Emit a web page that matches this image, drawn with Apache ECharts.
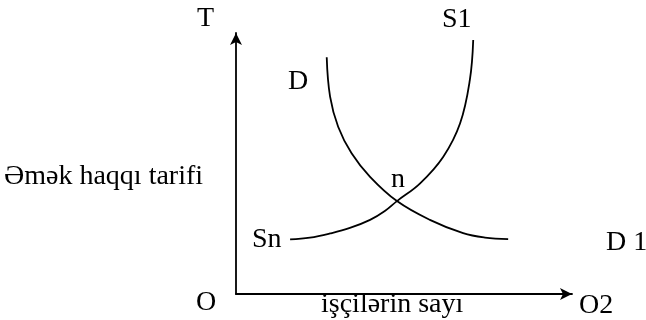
<!DOCTYPE html>
<html>
<head>
<meta charset="utf-8">
<script src="https://cdn.jsdelivr.net/npm/echarts@6/dist/echarts.min.js"></script>
<style>
  html, body { margin: 0; padding: 0; background: #fff; }
  #chart { width: 646px; height: 320px; }
</style>
</head>
<body>
<div id="chart"></div>
<script>
// supply curve Sn -> S1 (x = number of workers, y = wage rate), 0..100 scale
const supplyX = [16.1, 22.0, 28.0, 33.9, 39.9, 44.3, 47.9, 54.8, 61.7, 66.7, 69.6, 70.6];
const supplyY = [20.9, 21.6, 23.2, 25.3, 28.4, 31.8, 35.6, 42.4, 52.6, 65.4, 82.0, 97.3];
// demand curve D -> D1
const demandX = [27.0, 28.0, 30.4, 34.4, 39.9, 47.9, 57.7, 67.6, 74.1, 81.0];
const demandY = [90.7, 75.6, 64.1, 53.9, 44.9, 35.6, 28.4, 23.3, 21.6, 21.0];

const chart = echarts.init(document.getElementById('chart'), null, { renderer: 'canvas' });

const axisCommon = {
    type: 'value',
    min: 0,
    max: 100,
    axisLine: {
        show: true,
        onZero: false,
        symbol: ['none', 'arrow'],
        symbolSize: [9, 12],
        lineStyle: { color: '#000', width: 1.8 }
    },
    axisTick: { show: false },
    axisLabel: { show: false },
    splitLine: { show: false }
};

// y is the text's bottom edge (baseline + descent)
const text = (str, x, y) => ({
    type: 'text',
    x: x,
    y: y,
    style: {
        text: str,
        fontFamily: 'Liberation Serif',
        fontSize: 28,
        fill: '#000',
        align: 'left',
        verticalAlign: 'bottom'
    }
});

chart.setOption({
    animation: false,
    backgroundColor: '#fff',
    grid: { left: 236, top: 33, width: 336, height: 261 },
    xAxis: axisCommon,
    yAxis: axisCommon,
    series: [
        {
            name: 'S',
            type: 'line',
            data: supplyX.map((x, i) => [x, supplyY[i]]),
            smooth: 0.4,
            symbol: 'none',
            lineStyle: { color: '#000', width: 1.8 }
        },
        {
            name: 'D',
            type: 'line',
            data: demandX.map((x, i) => [x, demandY[i]]),
            smooth: 0.4,
            symbol: 'none',
            lineStyle: { color: '#000', width: 1.8 }
        }
    ],
    graphic: [
        text('T', 197, 33),
        text('S1', 442, 34),
        text('D', 288, 96),
        text('n', 391, 194),
        text('Sn', 252, 254),
        text('D 1', 606, 257),
        text('O', 196, 317),
        text('O2', 579, 320),
        text('Əmək haqqı tarifi', 4, 191),
        text('işçilərin sayı', 321, 319)
    ]
});
</script>
</body>
</html>
